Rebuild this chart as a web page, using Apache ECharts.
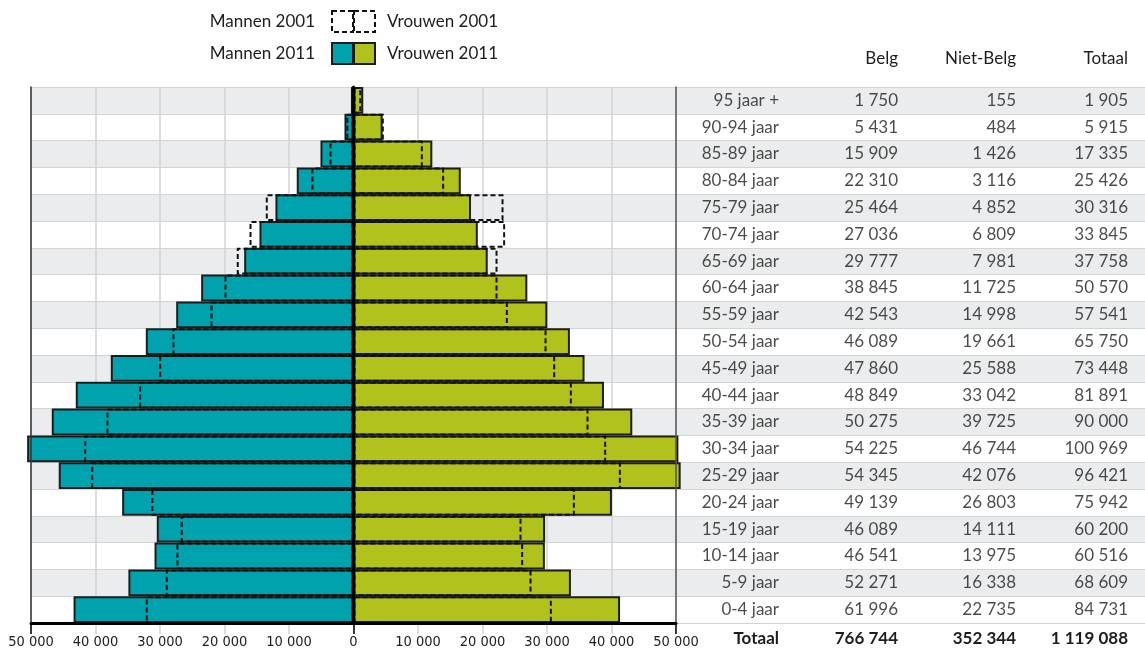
<!DOCTYPE html>
<html lang="nl">
<head>
<meta charset="UTF-8">
<script src="https://cdn.jsdelivr.net/npm/echarts@6/dist/echarts.min.js"></script>
<style>
  html, body { margin: 0; padding: 0; background: #fff; }
  #chart { width: 1145px; height: 662px; }
</style>
</head>
<body>
<div id="chart"></div>
<script>
// leeftijdsklassen, van onder (0-4) naar boven (95+)
var ages = ['0-4 jaar', '5-9 jaar', '10-14 jaar', '15-19 jaar', '20-24 jaar', '25-29 jaar',
  '30-34 jaar', '35-39 jaar', '40-44 jaar', '45-49 jaar', '50-54 jaar', '55-59 jaar',
  '60-64 jaar', '65-69 jaar', '70-74 jaar', '75-79 jaar', '80-84 jaar', '85-89 jaar',
  '90-94 jaar', '95 jaar +'];

var mannen2011 = [43400, 34900, 30850, 30500, 35870, 45700, 50600, 46780, 43060, 37630,
  32200, 27490, 23620, 16950, 14580, 12100, 8800, 5120, 1400, 400];
var vrouwen2011 = [41330, 33710, 29670, 29700, 40070, 50720, 50370, 43220, 38830, 35820,
  33550, 30050, 26950, 20810, 19270, 18220, 16630, 12220, 4520, 1510];
var mannen2001 = [32200, 29100, 27450, 26780, 31330, 40670, 41750, 38300, 33230, 30130,
  28070, 22170, 20000, 18100, 16120, 13600, 6510, 3720, 1100, 300];
var vrouwen2001 = [30750, 27600, 26300, 26050, 34320, 41450, 39170, 36440, 33850, 31270,
  29930, 23930, 22330, 22330, 23510, 23260, 14050, 10750, 4700, 1200];

var belg = [61996, 52271, 46541, 46089, 49139, 54345, 54225, 50275, 48849, 47860,
  46089, 42543, 38845, 29777, 27036, 25464, 22310, 15909, 5431, 1750];
var nietBelg = [22735, 16338, 13975, 14111, 26803, 42076, 46744, 39725, 33042, 25588,
  19661, 14998, 11725, 7981, 6809, 4852, 3116, 1426, 484, 155];
var totaal = [84731, 68609, 60516, 60200, 75942, 96421, 100969, 90000, 81891, 73448,
  65750, 57541, 50570, 37758, 33845, 30316, 25426, 17335, 5915, 1905];

var columns = ['Belg', 'Niet-Belg', 'Totaal'];
var totals = [766744, 352344, 1119088];
var totalLabel = 'Totaal';

var TEAL = '#00a2ae', GREEN = '#b1c21c', INK = '#1d1d1b';
var ROW_GRAY = '#ebeced', LINE_GRAY = '#d2d3d4';
var FONT = 'Lato, "Open Sans", sans-serif';
var NARROW = '"DejaVu Sans Condensed", "Liberation Sans Narrow", sans-serif';

function fmt(n) {
  return String(n).replace(/\B(?=(\d{3})+(?!\d))/g, ' ');
}

// rechterkant van elke tabelkolom, in pixels binnen het tabelraster
var colRight = [103, 222, 340, 452];
var tableCols = [ages, belg.map(fmt), nietBelg.map(fmt), totaal.map(fmt)];

var myChart = echarts.init(document.getElementById('chart'));

var solid = { borderColor: INK, borderWidth: 2 };
var dashed = { color: 'rgba(0,0,0,0)', borderColor: '#111', borderWidth: 2, borderType: [5, 3] };

var series = [
  { name: 'Mannen 2011', type: 'bar', stack: 'y2011', data: mannen2011.map(function (v) { return -v; }),
    itemStyle: Object.assign({ color: TEAL }, solid) },
  { name: 'Vrouwen 2011', type: 'bar', stack: 'y2011', data: vrouwen2011,
    itemStyle: Object.assign({ color: GREEN }, solid) },
  { name: 'Mannen 2001', type: 'bar', stack: 'y2001', data: mannen2001.map(function (v) { return -v; }),
    itemStyle: dashed, z: 3 },
  { name: 'Vrouwen 2001', type: 'bar', stack: 'y2001', data: vrouwen2001,
    itemStyle: dashed, z: 3 }
];
series.forEach(function (s) {
  s.xAxisIndex = 0; s.yAxisIndex = 0;
  s.barCategoryGap = 0; s.barGap = '-100%';
  s.clip = false;
  s.silent = true;
});

tableCols.forEach(function (col, c) {
  series.push({
    type: 'scatter', xAxisIndex: 2, yAxisIndex: 3, symbolSize: 0, silent: true,
    data: col.map(function (txt, i) { return [colRight[c], i, txt]; }),
    label: {
      show: true, position: 'left', distance: 0,
      formatter: function (p) { return p.value[2]; },
      fontFamily: FONT, fontSize: 17, color: INK
    }
  });
});

var graphics = [];
columns.forEach(function (name, c) {
  graphics.push({ type: 'text', x: 676 + colRight[c + 1], y: 59,
    style: { text: name, align: 'right', verticalAlign: 'middle', font: '17px ' + FONT, fill: INK } });
});
graphics.push({ type: 'text', x: 676 + colRight[0], y: 639,
  style: { text: totalLabel, align: 'right', verticalAlign: 'middle', font: 'bold 17px ' + FONT, fill: INK } });
totals.forEach(function (v, c) {
  graphics.push({ type: 'text', x: 676 + colRight[c + 1], y: 639,
    style: { text: fmt(v), align: 'right', verticalAlign: 'middle', font: 'bold 17px ' + FONT, fill: INK } });
});

var legendText = { fontFamily: FONT, fontSize: 17, color: INK };

option = {
  animation: false,
  grid: [
    { left: 31, right: 469, top: 87, bottom: 39 },
    { left: 676, right: 0, top: 87, bottom: 39 }
  ],
  legend: [
    { orient: 'vertical', align: 'right', right: 791, top: 10, padding: 0,
      itemWidth: 21, itemHeight: 21, itemGap: 9, selectedMode: false,
      icon: 'rect',
      textStyle: Object.assign({ padding: [0, 12, 0, 0] }, legendText),
      data: [
        { name: 'Mannen 2001', itemStyle: dashed },
        { name: 'Mannen 2011' }
      ] },
    { orient: 'vertical', align: 'left', left: 353, top: 10, padding: 0,
      itemWidth: 21, itemHeight: 21, itemGap: 9, selectedMode: false,
      icon: 'rect',
      textStyle: Object.assign({ padding: [0, 0, 0, 7] }, legendText),
      data: [
        { name: 'Vrouwen 2001', itemStyle: dashed },
        { name: 'Vrouwen 2011' }
      ] }
  ],
  xAxis: [
    // rasterlijnen, grijze streepjes en labels (onder de balken)
    { type: 'value', gridIndex: 0, min: -50000, max: 50000, interval: 10000,
      axisLine: { show: false },
      axisTick: { show: true, length: 11, lineStyle: { color: LINE_GRAY, width: 1.5 } },
      axisLabel: { margin: 12, fontFamily: NARROW, fontSize: 14.5, color: INK,
        formatter: function (v) { return fmt(Math.abs(v)); } },
      splitLine: { show: true, lineStyle: { color: LINE_GRAY, width: 1.5 } } },
    // dikke zwarte basislijn boven de balken
    { type: 'value', gridIndex: 0, min: -50000, max: 50000, interval: 10000, position: 'bottom', z: 6,
      axisLine: { show: true, lineStyle: { color: '#000', width: 3 } },
      axisTick: { show: true, length: 11, customValues: [-50000, 0, 50000], lineStyle: { color: '#000', width: 1.5 } },
      axisLabel: { show: false },
      splitLine: { show: false } },
    { type: 'value', gridIndex: 1, min: 0, max: 469, show: false }
  ],
  yAxis: [
    { type: 'category', gridIndex: 0, data: ages,
      axisLine: { show: false }, axisTick: { show: false }, axisLabel: { show: false },
      splitLine: { show: true, lineStyle: { color: LINE_GRAY, width: 1.2 } },
      splitArea: { show: true, areaStyle: { color: ['#ffffff', ROW_GRAY] } } },
    { type: 'category', gridIndex: 0, data: ages, position: 'left', z: 5,
      axisLine: { show: true, onZero: false, lineStyle: { color: '#333', width: 1.5 } },
      axisTick: { show: false }, axisLabel: { show: false }, splitLine: { show: false } },
    { type: 'category', gridIndex: 0, data: ages, position: 'right', z: 5,
      axisLine: { show: true, onZero: false, lineStyle: { color: '#555', width: 1.5 } },
      axisTick: { show: false }, axisLabel: { show: false }, splitLine: { show: false } },
    { type: 'category', gridIndex: 1, data: ages,
      axisLine: { show: false }, axisTick: { show: false }, axisLabel: { show: false },
      splitLine: { show: true, lineStyle: { color: LINE_GRAY, width: 1.2 } },
      splitArea: { show: true, areaStyle: { color: ['#ffffff', ROW_GRAY] } } },
    // middenlijn op nul
    { type: 'category', gridIndex: 0, data: ages, position: 'left', z: 5,
      axisLine: { show: true, onZero: true, lineStyle: { color: '#000', width: 3 } },
      axisTick: { show: false }, axisLabel: { show: false }, splitLine: { show: false } }
  ],
  graphic: graphics,
  series: series
};
myChart.setOption(option);
</script>
</body>
</html>
